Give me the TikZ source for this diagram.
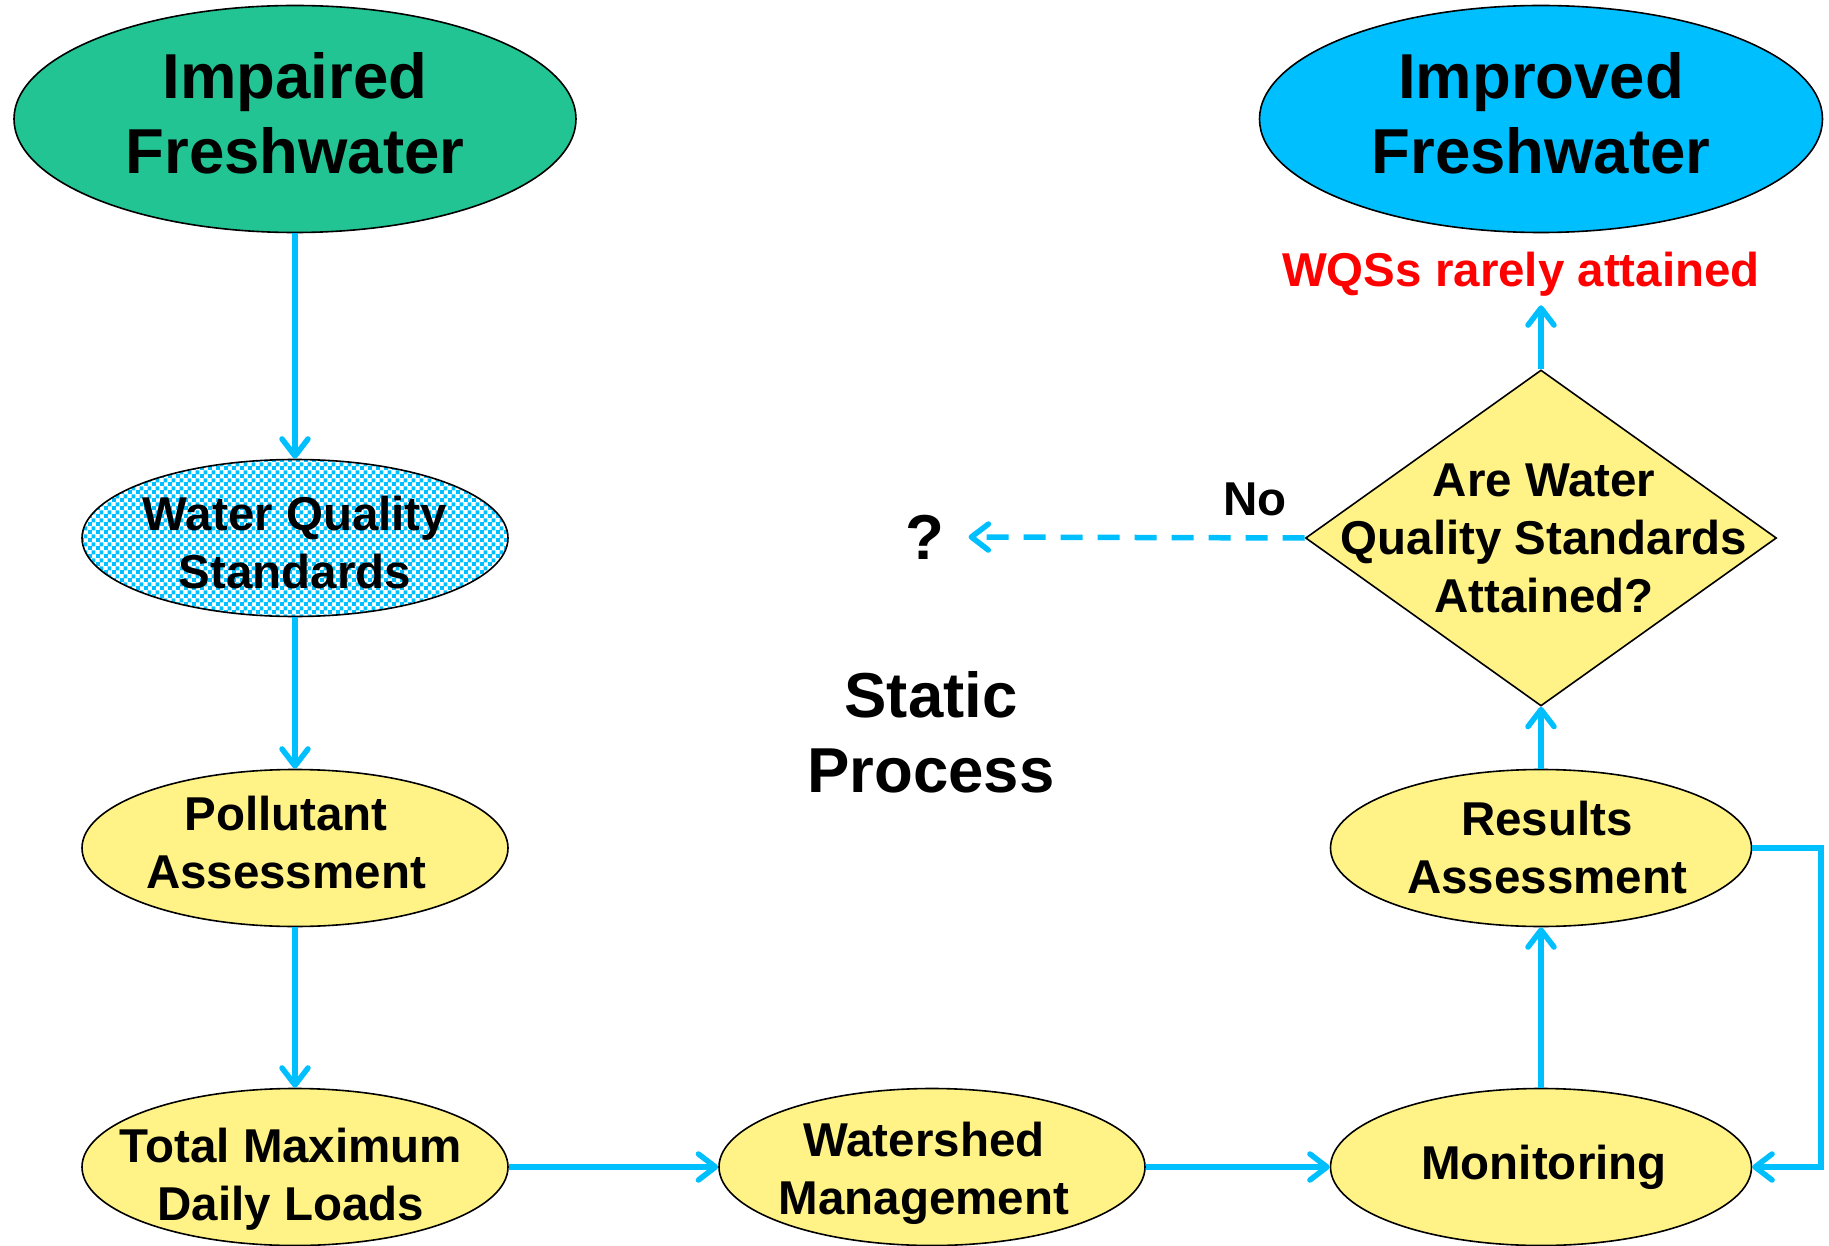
\documentclass[tikz,border=0pt]{standalone}
\usepackage{fontspec}
\setmainfont{Liberation Sans}
\usetikzlibrary{shapes.geometric,arrows.meta,patterns}

\definecolor{skyline}{HTML}{00BFFF}
\definecolor{impgreen}{HTML}{22C493}
\definecolor{padyellow}{HTML}{FFF388}

\pgfdeclarepatternformonly{checks}{\pgfpointorigin}{\pgfqpoint{8pt}{8pt}}{\pgfqpoint{8pt}{8pt}}{
  \pgfpathrectangle{\pgfpointorigin}{\pgfqpoint{4.4pt}{4.4pt}}
  \pgfpathrectangle{\pgfqpoint{4pt}{4pt}}{\pgfqpoint{4.4pt}{4.4pt}}
  \pgfusepath{fill}
}

\tikzset{
  flow/.style={draw=skyline, line width=5.5pt, -{Straight Barb[length=17pt,width=26pt,round]}},
  blob/.style={ellipse, draw=black, line width=1.6pt, inner sep=0pt},
  big/.style={font=\fontsize{63.5}{75}\selectfont\bfseries, align=center},
  mid/.style={font=\fontsize{47.5}{58}\selectfont\bfseries, align=center}
}

\begin{document}
\begin{tikzpicture}[x=1pt, y=-1pt]
          \useasboundingbox (0,0) rectangle (1829,1246);

          \begin{scope}[every node/.style={blob, minimum width=426pt, minimum height=157pt}]
          \node [fill=impgreen, minimum width=562pt, minimum height=227pt] (v1) at (295,119) {};
          \node [preaction={fill=white}, pattern=checks, pattern color=skyline] (v2) at (295,538) {};
          \node [fill=padyellow] (v3) at (295,848) {};
          \node [fill=padyellow] (v4) at (295,1167) {};
          \node [fill=padyellow] (v5) at (932,1167) {};
          \node [fill=padyellow, minimum width=421pt] (v6) at (1541,1167) {};
          \node [fill=padyellow, minimum width=421pt] (v7) at (1541,848) {};
          \node [fill=skyline, minimum width=563pt, minimum height=227pt] (v9) at (1541,119) {};
          \end{scope}
          \node [diamond, draw=black, line width=1.6pt, fill=padyellow, inner sep=0pt,
                 minimum width=471pt, minimum height=336pt] (v8) at (1541,538) {};

          \node [big] (t1) at (295,113) {Impaired\\Freshwater};
          \node [mid] (t2) at (295,543) {Water Quality\\Standards};
          \node [mid] (t3) at (286,843) {Pollutant\\Assessment};
          \node [mid] (t4) at (291,1179) {Total Maximum\\Daily Loads};
          \node [mid] (t5) at (924,1173) {Watershed\\Management};
          \node [mid] (t6) at (1544,1167) {Monitoring};
          \node [mid] (t7) at (1547,848) {Results\\Assessment};
          \node [mid] (t8) at (1544,538) {Are Water\\Quality Standards\\Attained?};
          \node [big] (t9) at (1541,113) {Improved\\Freshwater};

          \node [mid, text=red, inner sep=9pt] (v10) at (1521,274) {WQSs rarely attained};
          \node [big, inner sep=24pt] (q) at (925,537) {?};
          \node [mid] (no) at (1255,499) {No};
          \node [big] (sp) at (931,732) {Static\\Process};
          \coordinate (c1) at (1821,848);

          \draw [flow] (v1) edge (v2);
          \draw [flow] (v2) edge (v3);
          \draw [flow] (v3) edge (v4);
          \draw [flow] (v4) edge (v5);
          \draw [flow] (v5) edge (v6);
          \draw [flow] (v6) edge (v7);
          \draw [flow] (v7) edge (v8);
          \draw [flow] (v8.north) -- (v8.north |- v10.south);
          \draw [flow] (v7.east) -- (c1) |- (v6.east);
          \draw [flow, dash pattern=on 22pt off 15pt] (v8.west) -- (q.east);

\end{tikzpicture}
\end{document}
